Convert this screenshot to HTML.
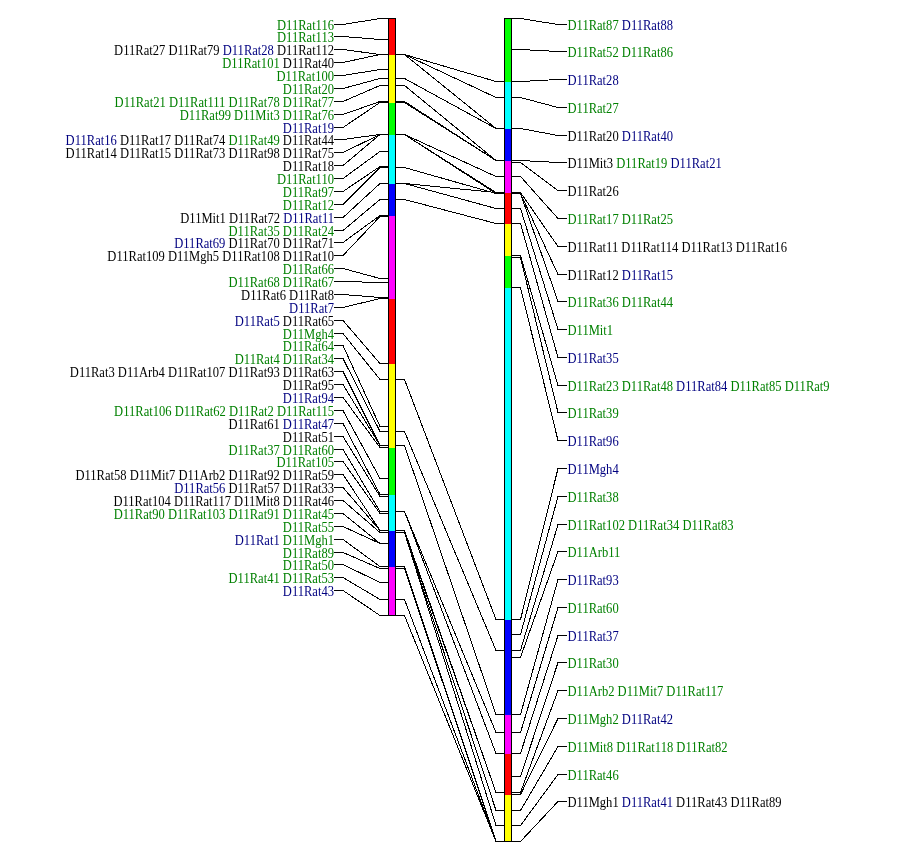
<!DOCTYPE html><html><head><meta charset="utf-8"><style>html,body{margin:0;padding:0;background:#fff;}svg{display:block;will-change:transform}</style></head><body>
<svg width="900" height="859" viewBox="0 0 900 859">
<rect width="900" height="859" fill="#fff"/>
<path fill="none" stroke="#000" stroke-width="1" shape-rendering="crispEdges" d="M334 24.5H343L380 18.5H388 M334 36.5H343L380 39.5H388 M334 49.5H343L380 54.5H388 M334 62.5H343L380 54.5H388 M334 75.5H343L380 69.5H388 M334 88.5H343L380 78.5H388 M334 101.5H343L380 85.5H388 M334 114.5H343L380 101.5H388 M334 127.5H343L380 102.5H388 M334 139.5H343L380 134.5H388 M334 152.5H343L380 134.5H388 M334 165.5H343L380 134.5H388 M334 178.5H343L380 151.5H388 M334 191.5H343L380 166.5H388 M334 204.5H343L380 167.5H388 M334 217.5H343L380 183.5H388 M334 230.5H343L380 199.5H388 M334 242.5H343L380 215.5H388 M334 255.5H343L380 216.5H388 M334 268.5H343L380 278.5H388 M334 281.5H343L380 282.5H388 M334 294.5H343L380 297.5H388 M334 307.5H343L380 298.5H388 M334 320.5H343L380 363.5H388 M334 333.5H343L380 379.5H388 M334 345.5H343L380 426.5H388 M334 358.5H343L380 431.5H388 M334 371.5H343L380 445.5H388 M334 384.5H343L380 445.5H388 M334 397.5H343L380 447.5H388 M334 410.5H343L380 478.5H388 M334 423.5H343L380 494.5H388 M334 436.5H343L380 496.5H388 M334 449.5H343L380 511.5H388 M334 461.5H343L380 513.5H388 M334 474.5H343L380 530.5H388 M334 487.5H343L380 530.5H388 M334 500.5H343L380 532.5H388 M334 513.5H343L380 543.5H388 M334 526.5H343L380 543.5H388 M334 539.5H343L380 566.5H388 M334 552.5H343L380 568.5H388 M334 564.5H343L380 582.5H388 M334 577.5H343L380 599.5H388 M334 590.5H343L380 615.5H388 M396 54.5H404.5L496 81.5H504 M396 54.5H404.5L496 97.5H504 M396 54.5H404.5L496 128.5H504 M396 78.5H404.5L496 128.5H504 M396 101.5H404.5L496 160.5H504 M396 102.5H404.5L496 160.5H504 M396 85.5H404.5L496 160.5H504 M396 134.5H404.5L496 176.5H504 M396 134.5H404.5L496 192.5H504 M396 183.5H404.5L496 192.5H504 M396 167.5H404.5L496 193.5H504 M396 134.5H404.5L496 193.5H504 M396 183.5H404.5L496 208.5H504 M396 199.5H404.5L496 223.5H504 M396 379.5H404.5L496 619.5H504 M396 431.5H404.5L496 650.5H504 M396 445.5H404.5L496 714.5H504 M396 511.5H404.5L496 732.5H504 M396 511.5H404.5L496 753.5H504 M396 530.5H404.5L496 792.5H504 M396 532.5H404.5L496 792.5H504 M396 532.5H404.5L496 810.5H504 M396 532.5H404.5L496 825.5H504 M396 566.5H404.5L496 841.5H504 M396 568.5H404.5L496 841.5H504 M396 599.5H404.5L496 841.5H504 M396 615.5H404.5L496 841.5H504 M512 18.5H520.5L558 24.5H567 M512 49.5H520.5L558 51.5H567 M512 81.5H520.5L558 79.5H567 M512 97.5H520.5L558 107.5H567 M512 128.5H520.5L558 135.5H567 M512 160.5H520.5L558 162.5H567 M512 162.5H520.5L558 190.5H567 M512 176.5H520.5L558 218.5H567 M512 192.5H520.5L558 246.5H567 M512 193.5H520.5L558 274.5H567 M512 193.5H520.5L558 301.5H567 M512 208.5H520.5L558 329.5H567 M512 223.5H520.5L558 357.5H567 M512 255.5H520.5L558 385.5H567 M512 257.5H520.5L558 412.5H567 M512 287.5H520.5L558 440.5H567 M512 619.5H520.5L558 468.5H567 M512 634.5H520.5L558 496.5H567 M512 650.5H520.5L558 524.5H567 M512 657.5H520.5L558 551.5H567 M512 714.5H520.5L558 579.5H567 M512 732.5H520.5L558 607.5H567 M512 753.5H520.5L558 635.5H567 M512 776.5H520.5L558 662.5H567 M512 792.5H520.5L558 690.5H567 M512 794.5H520.5L558 718.5H567 M512 810.5H520.5L558 746.5H567 M512 825.5H520.5L558 774.5H567 M512 841.5H520.5L558 801.5H567"/>
<rect x="389" y="19" width="6" height="36" fill="#ff0000"/><rect x="389" y="55" width="6" height="48" fill="#ffff00"/><rect x="389" y="103" width="6" height="32" fill="#00ff00"/><rect x="389" y="135" width="6" height="49" fill="#00ffff"/><rect x="389" y="184" width="6" height="32" fill="#0000ff"/><rect x="389" y="216" width="6" height="83" fill="#ff00ff"/><rect x="389" y="299" width="6" height="65" fill="#ff0000"/><rect x="389" y="364" width="6" height="84" fill="#ffff00"/><rect x="389" y="448" width="6" height="47" fill="#00ff00"/><rect x="389" y="495" width="6" height="36" fill="#00ffff"/><rect x="389" y="531" width="6" height="36" fill="#0000ff"/><rect x="389" y="567" width="6" height="48" fill="#ff00ff"/><rect x="388.5" y="18.5" width="7" height="597" fill="none" stroke="#000"/>
<rect x="505" y="19" width="6" height="63" fill="#00ff00"/><rect x="505" y="82" width="6" height="47" fill="#00ffff"/><rect x="505" y="129" width="6" height="32" fill="#0000ff"/><rect x="505" y="161" width="6" height="32" fill="#ff00ff"/><rect x="505" y="193" width="6" height="31" fill="#ff0000"/><rect x="505" y="224" width="6" height="32" fill="#ffff00"/><rect x="505" y="256" width="6" height="32" fill="#00ff00"/><rect x="505" y="288" width="6" height="332" fill="#00ffff"/><rect x="505" y="620" width="6" height="95" fill="#0000ff"/><rect x="505" y="715" width="6" height="39" fill="#ff00ff"/><rect x="505" y="754" width="6" height="41" fill="#ff0000"/><rect x="505" y="795" width="6" height="46" fill="#ffff00"/><rect x="504.5" y="18.5" width="7" height="823" fill="none" stroke="#000"/>
<g font-family="Liberation Serif" font-size="12.5" stroke-width="0" xml:space="preserve">
<text transform="translate(334 30) scale(0.925 1)" font-size="13.6" text-anchor="end"><tspan fill="#008000" stroke="#008000">D11Rat116</tspan></text>
<text transform="translate(334 42) scale(0.925 1)" font-size="13.6" text-anchor="end"><tspan fill="#008000" stroke="#008000">D11Rat113</tspan></text>
<text transform="translate(334 55) scale(0.925 1)" font-size="13.6" text-anchor="end"><tspan fill="#000000" stroke="#000000">D11Rat27 D11Rat79</tspan><tspan fill="#000080" stroke="#000080"> D11Rat28</tspan><tspan fill="#000000" stroke="#000000"> D11Rat112</tspan></text>
<text transform="translate(334 68) scale(0.925 1)" font-size="13.6" text-anchor="end"><tspan fill="#008000" stroke="#008000">D11Rat101</tspan><tspan fill="#000000" stroke="#000000"> D11Rat40</tspan></text>
<text transform="translate(334 81) scale(0.925 1)" font-size="13.6" text-anchor="end"><tspan fill="#008000" stroke="#008000">D11Rat100</tspan></text>
<text transform="translate(334 94) scale(0.925 1)" font-size="13.6" text-anchor="end"><tspan fill="#008000" stroke="#008000">D11Rat20</tspan></text>
<text transform="translate(334 107) scale(0.925 1)" font-size="13.6" text-anchor="end"><tspan fill="#008000" stroke="#008000">D11Rat21 D11Rat111 D11Rat78 D11Rat77</tspan></text>
<text transform="translate(334 120) scale(0.925 1)" font-size="13.6" text-anchor="end"><tspan fill="#008000" stroke="#008000">D11Rat99 D11Mit3 D11Rat76</tspan></text>
<text transform="translate(334 133) scale(0.925 1)" font-size="13.6" text-anchor="end"><tspan fill="#000080" stroke="#000080">D11Rat19</tspan></text>
<text transform="translate(334 145) scale(0.925 1)" font-size="13.6" text-anchor="end"><tspan fill="#000080" stroke="#000080">D11Rat16</tspan><tspan fill="#000000" stroke="#000000"> D11Rat17 D11Rat74</tspan><tspan fill="#008000" stroke="#008000"> D11Rat49</tspan><tspan fill="#000000" stroke="#000000"> D11Rat44</tspan></text>
<text transform="translate(334 158) scale(0.925 1)" font-size="13.6" text-anchor="end"><tspan fill="#000000" stroke="#000000">D11Rat14 D11Rat15 D11Rat73 D11Rat98 D11Rat75</tspan></text>
<text transform="translate(334 171) scale(0.925 1)" font-size="13.6" text-anchor="end"><tspan fill="#000000" stroke="#000000">D11Rat18</tspan></text>
<text transform="translate(334 184) scale(0.925 1)" font-size="13.6" text-anchor="end"><tspan fill="#008000" stroke="#008000">D11Rat110</tspan></text>
<text transform="translate(334 197) scale(0.925 1)" font-size="13.6" text-anchor="end"><tspan fill="#008000" stroke="#008000">D11Rat97</tspan></text>
<text transform="translate(334 210) scale(0.925 1)" font-size="13.6" text-anchor="end"><tspan fill="#008000" stroke="#008000">D11Rat12</tspan></text>
<text transform="translate(334 223) scale(0.925 1)" font-size="13.6" text-anchor="end"><tspan fill="#000000" stroke="#000000">D11Mit1 D11Rat72</tspan><tspan fill="#000080" stroke="#000080"> D11Rat11</tspan></text>
<text transform="translate(334 236) scale(0.925 1)" font-size="13.6" text-anchor="end"><tspan fill="#008000" stroke="#008000">D11Rat35 D11Rat24</tspan></text>
<text transform="translate(334 248) scale(0.925 1)" font-size="13.6" text-anchor="end"><tspan fill="#000080" stroke="#000080">D11Rat69</tspan><tspan fill="#000000" stroke="#000000"> D11Rat70 D11Rat71</tspan></text>
<text transform="translate(334 261) scale(0.925 1)" font-size="13.6" text-anchor="end"><tspan fill="#000000" stroke="#000000">D11Rat109 D11Mgh5 D11Rat108 D11Rat10</tspan></text>
<text transform="translate(334 274) scale(0.925 1)" font-size="13.6" text-anchor="end"><tspan fill="#008000" stroke="#008000">D11Rat66</tspan></text>
<text transform="translate(334 287) scale(0.925 1)" font-size="13.6" text-anchor="end"><tspan fill="#008000" stroke="#008000">D11Rat68 D11Rat67</tspan></text>
<text transform="translate(334 300) scale(0.925 1)" font-size="13.6" text-anchor="end"><tspan fill="#000000" stroke="#000000">D11Rat6 D11Rat8</tspan></text>
<text transform="translate(334 313) scale(0.925 1)" font-size="13.6" text-anchor="end"><tspan fill="#000080" stroke="#000080">D11Rat7</tspan></text>
<text transform="translate(334 326) scale(0.925 1)" font-size="13.6" text-anchor="end"><tspan fill="#000080" stroke="#000080">D11Rat5</tspan><tspan fill="#000000" stroke="#000000"> D11Rat65</tspan></text>
<text transform="translate(334 339) scale(0.925 1)" font-size="13.6" text-anchor="end"><tspan fill="#008000" stroke="#008000">D11Mgh4</tspan></text>
<text transform="translate(334 351) scale(0.925 1)" font-size="13.6" text-anchor="end"><tspan fill="#008000" stroke="#008000">D11Rat64</tspan></text>
<text transform="translate(334 364) scale(0.925 1)" font-size="13.6" text-anchor="end"><tspan fill="#008000" stroke="#008000">D11Rat4 D11Rat34</tspan></text>
<text transform="translate(334 377) scale(0.925 1)" font-size="13.6" text-anchor="end"><tspan fill="#000000" stroke="#000000">D11Rat3 D11Arb4 D11Rat107 D11Rat93 D11Rat63</tspan></text>
<text transform="translate(334 390) scale(0.925 1)" font-size="13.6" text-anchor="end"><tspan fill="#000000" stroke="#000000">D11Rat95</tspan></text>
<text transform="translate(334 403) scale(0.925 1)" font-size="13.6" text-anchor="end"><tspan fill="#000080" stroke="#000080">D11Rat94</tspan></text>
<text transform="translate(334 416) scale(0.925 1)" font-size="13.6" text-anchor="end"><tspan fill="#008000" stroke="#008000">D11Rat106 D11Rat62 D11Rat2 D11Rat115</tspan></text>
<text transform="translate(334 429) scale(0.925 1)" font-size="13.6" text-anchor="end"><tspan fill="#000000" stroke="#000000">D11Rat61</tspan><tspan fill="#000080" stroke="#000080"> D11Rat47</tspan></text>
<text transform="translate(334 442) scale(0.925 1)" font-size="13.6" text-anchor="end"><tspan fill="#000000" stroke="#000000">D11Rat51</tspan></text>
<text transform="translate(334 455) scale(0.925 1)" font-size="13.6" text-anchor="end"><tspan fill="#008000" stroke="#008000">D11Rat37 D11Rat60</tspan></text>
<text transform="translate(334 467) scale(0.925 1)" font-size="13.6" text-anchor="end"><tspan fill="#008000" stroke="#008000">D11Rat105</tspan></text>
<text transform="translate(334 480) scale(0.925 1)" font-size="13.6" text-anchor="end"><tspan fill="#000000" stroke="#000000">D11Rat58 D11Mit7 D11Arb2 D11Rat92 D11Rat59</tspan></text>
<text transform="translate(334 493) scale(0.925 1)" font-size="13.6" text-anchor="end"><tspan fill="#000080" stroke="#000080">D11Rat56</tspan><tspan fill="#000000" stroke="#000000"> D11Rat57 D11Rat33</tspan></text>
<text transform="translate(334 506) scale(0.925 1)" font-size="13.6" text-anchor="end"><tspan fill="#000000" stroke="#000000">D11Rat104 D11Rat117 D11Mit8 D11Rat46</tspan></text>
<text transform="translate(334 519) scale(0.925 1)" font-size="13.6" text-anchor="end"><tspan fill="#008000" stroke="#008000">D11Rat90 D11Rat103 D11Rat91 D11Rat45</tspan></text>
<text transform="translate(334 532) scale(0.925 1)" font-size="13.6" text-anchor="end"><tspan fill="#008000" stroke="#008000">D11Rat55</tspan></text>
<text transform="translate(334 545) scale(0.925 1)" font-size="13.6" text-anchor="end"><tspan fill="#000080" stroke="#000080">D11Rat1</tspan><tspan fill="#008000" stroke="#008000"> D11Mgh1</tspan></text>
<text transform="translate(334 558) scale(0.925 1)" font-size="13.6" text-anchor="end"><tspan fill="#008000" stroke="#008000">D11Rat89</tspan></text>
<text transform="translate(334 570) scale(0.925 1)" font-size="13.6" text-anchor="end"><tspan fill="#008000" stroke="#008000">D11Rat50</tspan></text>
<text transform="translate(334 583) scale(0.925 1)" font-size="13.6" text-anchor="end"><tspan fill="#008000" stroke="#008000">D11Rat41 D11Rat53</tspan></text>
<text transform="translate(334 596) scale(0.925 1)" font-size="13.6" text-anchor="end"><tspan fill="#000080" stroke="#000080">D11Rat43</tspan></text>
<text transform="translate(567.5 30) scale(0.925 1)" font-size="13.6"><tspan fill="#008000" stroke="#008000">D11Rat87</tspan><tspan fill="#000080" stroke="#000080"> D11Rat88</tspan></text>
<text transform="translate(567.5 57) scale(0.925 1)" font-size="13.6"><tspan fill="#008000" stroke="#008000">D11Rat52 D11Rat86</tspan></text>
<text transform="translate(567.5 85) scale(0.925 1)" font-size="13.6"><tspan fill="#000080" stroke="#000080">D11Rat28</tspan></text>
<text transform="translate(567.5 113) scale(0.925 1)" font-size="13.6"><tspan fill="#008000" stroke="#008000">D11Rat27</tspan></text>
<text transform="translate(567.5 141) scale(0.925 1)" font-size="13.6"><tspan fill="#000000" stroke="#000000">D11Rat20</tspan><tspan fill="#000080" stroke="#000080"> D11Rat40</tspan></text>
<text transform="translate(567.5 168) scale(0.925 1)" font-size="13.6"><tspan fill="#000000" stroke="#000000">D11Mit3</tspan><tspan fill="#008000" stroke="#008000"> D11Rat19</tspan><tspan fill="#000080" stroke="#000080"> D11Rat21</tspan></text>
<text transform="translate(567.5 196) scale(0.925 1)" font-size="13.6"><tspan fill="#000000" stroke="#000000">D11Rat26</tspan></text>
<text transform="translate(567.5 224) scale(0.925 1)" font-size="13.6"><tspan fill="#008000" stroke="#008000">D11Rat17 D11Rat25</tspan></text>
<text transform="translate(567.5 252) scale(0.925 1)" font-size="13.6"><tspan fill="#000000" stroke="#000000">D11Rat11 D11Rat114 D11Rat13 D11Rat16</tspan></text>
<text transform="translate(567.5 280) scale(0.925 1)" font-size="13.6"><tspan fill="#000000" stroke="#000000">D11Rat12</tspan><tspan fill="#000080" stroke="#000080"> D11Rat15</tspan></text>
<text transform="translate(567.5 307) scale(0.925 1)" font-size="13.6"><tspan fill="#008000" stroke="#008000">D11Rat36 D11Rat44</tspan></text>
<text transform="translate(567.5 335) scale(0.925 1)" font-size="13.6"><tspan fill="#008000" stroke="#008000">D11Mit1</tspan></text>
<text transform="translate(567.5 363) scale(0.925 1)" font-size="13.6"><tspan fill="#000080" stroke="#000080">D11Rat35</tspan></text>
<text transform="translate(567.5 391) scale(0.925 1)" font-size="13.6"><tspan fill="#008000" stroke="#008000">D11Rat23 D11Rat48</tspan><tspan fill="#000080" stroke="#000080"> D11Rat84</tspan><tspan fill="#008000" stroke="#008000"> D11Rat85 D11Rat9</tspan></text>
<text transform="translate(567.5 418) scale(0.925 1)" font-size="13.6"><tspan fill="#008000" stroke="#008000">D11Rat39</tspan></text>
<text transform="translate(567.5 446) scale(0.925 1)" font-size="13.6"><tspan fill="#000080" stroke="#000080">D11Rat96</tspan></text>
<text transform="translate(567.5 474) scale(0.925 1)" font-size="13.6"><tspan fill="#000080" stroke="#000080">D11Mgh4</tspan></text>
<text transform="translate(567.5 502) scale(0.925 1)" font-size="13.6"><tspan fill="#008000" stroke="#008000">D11Rat38</tspan></text>
<text transform="translate(567.5 530) scale(0.925 1)" font-size="13.6"><tspan fill="#008000" stroke="#008000">D11Rat102 D11Rat34 D11Rat83</tspan></text>
<text transform="translate(567.5 557) scale(0.925 1)" font-size="13.6"><tspan fill="#008000" stroke="#008000">D11Arb11</tspan></text>
<text transform="translate(567.5 585) scale(0.925 1)" font-size="13.6"><tspan fill="#000080" stroke="#000080">D11Rat93</tspan></text>
<text transform="translate(567.5 613) scale(0.925 1)" font-size="13.6"><tspan fill="#008000" stroke="#008000">D11Rat60</tspan></text>
<text transform="translate(567.5 641) scale(0.925 1)" font-size="13.6"><tspan fill="#000080" stroke="#000080">D11Rat37</tspan></text>
<text transform="translate(567.5 668) scale(0.925 1)" font-size="13.6"><tspan fill="#008000" stroke="#008000">D11Rat30</tspan></text>
<text transform="translate(567.5 696) scale(0.925 1)" font-size="13.6"><tspan fill="#008000" stroke="#008000">D11Arb2 D11Mit7 D11Rat117</tspan></text>
<text transform="translate(567.5 724) scale(0.925 1)" font-size="13.6"><tspan fill="#008000" stroke="#008000">D11Mgh2</tspan><tspan fill="#000080" stroke="#000080"> D11Rat42</tspan></text>
<text transform="translate(567.5 752) scale(0.925 1)" font-size="13.6"><tspan fill="#008000" stroke="#008000">D11Mit8 D11Rat118 D11Rat82</tspan></text>
<text transform="translate(567.5 780) scale(0.925 1)" font-size="13.6"><tspan fill="#008000" stroke="#008000">D11Rat46</tspan></text>
<text transform="translate(567.5 807) scale(0.925 1)" font-size="13.6"><tspan fill="#000000" stroke="#000000">D11Mgh1</tspan><tspan fill="#000080" stroke="#000080"> D11Rat41</tspan><tspan fill="#000000" stroke="#000000"> D11Rat43 D11Rat89</tspan></text>
</g></svg></body></html>
